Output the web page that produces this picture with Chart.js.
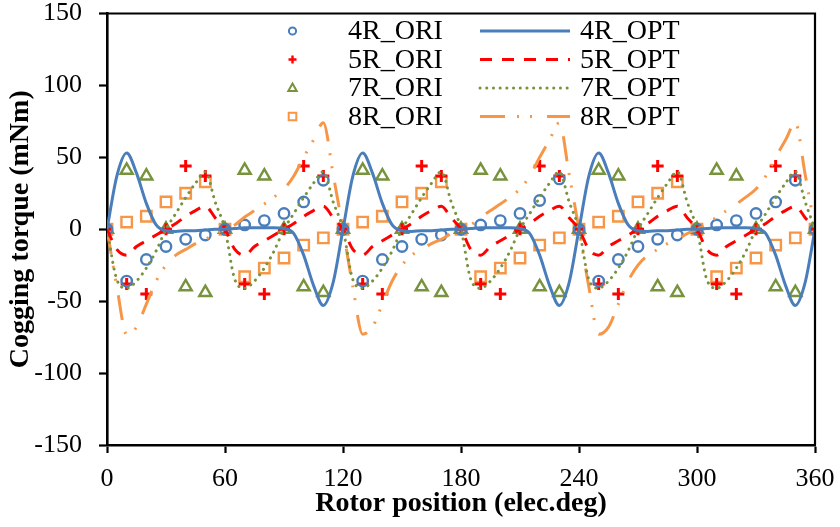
<!DOCTYPE html>
<html>
<head>
<meta charset="utf-8">
<title>Cogging torque</title>
<script src="https://cdn.jsdelivr.net/npm/chart.js@4.4.1/dist/chart.umd.min.js"></script>
<style>
  html, body { margin: 0; padding: 0; background: #fff; }
  #wrap { width: 840px; height: 527px; }
</style>
</head>
<body>
<div id="wrap"><canvas id="torque" width="840" height="527"></canvas></div>
<script>
// rotor angle (elec.deg) for the measured points and for the smooth curves
const angleOri = [0, 10, 20, 30, 40, 50, 60, 70, 80, 90, 100, 110, 120, 130, 140, 150, 160, 170, 180,
  190, 200, 210, 220, 230, 240, 250, 260, 270, 280, 290, 300, 310, 320, 330, 340, 350, 360];
const angleOpt = [0, 5, 10, 15, 20, 25, 30, 35, 40, 45, 50, 55, 60, 65, 70, 75, 80, 85, 90, 95, 100, 105, 110, 115,
  120, 125, 130, 135, 140, 145, 150, 155, 160, 165, 170, 175, 180, 185, 190, 195, 200, 205, 210, 215, 220, 225, 230, 235,
  240, 245, 250, 255, 260, 265, 270, 275, 280, 285, 290, 295, 300, 305, 310, 315, 320, 325, 330, 335, 340, 345, 350, 355, 360];

// original designs (mNm)
const ori4R = [0, -36, -21, -12, -7, -4, 0, 3, 6, 11, 19, 34,
  0, -36, -21, -12, -7, -4, 0, 3, 6, 11, 20, 35,
  0, -36, -21, -12, -7, -4, 0, 3, 6, 11, 19, 34, 0];
const ori5R = [0, -38, -45, 0, 44, 37, 0, -38, -45, 0, 44, 37,
  0, -38, -45, 0, 44, 37, 0, -38, -45, 0, 44, 37,
  0, -38, -45, 0, 44, 37, 0, -38, -45, 0, 44, 37, 0];
const ori7R = [0, 41, 37, 0, -40, -44, 0, 41, 37, 0, -40, -44,
  0, 41, 37, 0, -40, -44, 0, 41, 37, 0, -40, -44,
  0, 41, 37, 0, -40, -44, 0, 41, 37, 0, -40, -44, 0];
const ori8R = [0, 5, 9, 19, 25, 33, 0, -33, -27, -20, -11, -6,
  0, 5, 9, 19, 25, 33, 0, -33, -27, -20, -11, -6,
  0, 5, 9, 19, 25, 33, 0, -33, -27, -20, -11, -6, 0];

// optimized designs (mNm)
const opt4R = [0, 37, 53, 39, 18, 3, -1, -1.5, -1, -1, -0.5, 0, 0, 0.5, 1, 1, 1, 1, 0.5, -3, -18, -39, -53, -37,
  0, 37, 53, 39, 18, 3, -1, -1.5, -1, -1, -0.5, 0, 0, 0.5, 1, 1, 1, 1, 0.5, -3, -18, -39, -53, -37,
  0, 37, 53, 39, 18, 3, -1, -1.5, -1, -1, -0.5, 0, 0, 0.5, 1, 1, 1, 1, 0.5, -3, -18, -39, -53, -37, 0];
const opt5R = [0, -14, -18, -12, -8, -4, 0, 4, 9, 13, 16, 8, 0, -14, -18, -12, -8, -4, 0, 4, 9, 13, 16, 8,
  0, -14, -18, -12, -8, -4, 0, 4, 9, 13, 16, 8, 0, -14, -18, -12, -8, -4, 0, 4, 9, 13, 16, 8,
  0, -14, -18, -12, -8, -4, 0, 4, 9, 13, 16, 8, 0, -14, -18, -12, -8, -4, 0, 4, 9, 13, 16, 8, 0];
const opt7R = [0, -35, -41, -36, -27, -15, 0, 11, 22, 32, 40, 19, 0, -35, -41, -36, -27, -15, 0, 11, 22, 32, 40, 19,
  0, -35, -41, -36, -27, -15, 0, 11, 22, 32, 40, 19, 0, -35, -41, -36, -27, -15, 0, 11, 22, 32, 40, 19,
  0, -35, -41, -36, -27, -15, 0, 11, 22, 32, 40, 19, 0, -35, -41, -36, -27, -15, 0, 11, 22, 32, 40, 19, 0];
const opt8R = [0, -40, -73, -68, -52, -36, -25, -18, -14, -10, -7, -3, 0, 3, 8.5, 13, 17.5, 22.5, 28, 37, 50, 62, 74, 38,
  0, -40, -73, -68, -52, -36, -25, -18, -14, -10, -7, -3, 0, 3, 8.5, 13, 17.5, 22.5, 28, 37, 50, 62, 74, 38,
  0, -40, -73, -68, -52, -36, -25, -18, -14, -10, -7, -3, 0, 3, 8.5, 13, 17.5, 22.5, 28, 37, 50, 62, 74, 38, 0];

const xTicks = [0, 60, 120, 180, 240, 300, 360];
const yTicks = [-150, -100, -50, 0, 50, 100, 150];

const SERIF = '"Liberation Serif", "Times New Roman", Times, serif';
const BLUE = '#4A7EBB';
const RED = '#FF0000';
const GREEN = '#77933C';
const ORANGE = '#F79646';

function pts(xs, ys) {
  return xs.map((x, i) => ({ x, y: ys[i] }));
}

function markerSet(label, ys, color, style, radius) {
  return {
    label,
    data: pts(angleOri, ys),
    showLine: false,
    pointStyle: style,
    pointRadius: radius,
    pointHoverRadius: radius,
    pointBorderWidth: style === 'cross' ? 3 : 2.4,
    pointBorderColor: color,
    pointBackgroundColor: 'rgba(0,0,0,0)',
    borderColor: color,
    order: 1,
  };
}

function curveSet(label, ys, color, dash, cap) {
  return {
    label,
    data: pts(angleOpt, ys),
    showLine: true,
    pointRadius: 0,
    borderColor: color,
    borderWidth: 3,
    borderDash: dash,
    borderCapStyle: cap,
    cubicInterpolationMode: 'monotone',
    order: 0,
  };
}

const datasets = [
  markerSet('4R_ORI', ori4R, BLUE, 'circle', 5.2),
  markerSet('5R_ORI', ori5R, RED, 'cross', 6),
  markerSet('7R_ORI', ori7R, GREEN, 'triangle', 7),
  markerSet('8R_ORI', ori8R, ORANGE, 'rect', 7.4),
  curveSet('4R_OPT', opt4R, BLUE, [], 'butt'),
  curveSet('5R_OPT', opt5R, RED, [12, 10], 'butt'),
  curveSet('7R_OPT', opt7R, GREEN, [0.1, 6.6], 'round'),
  curveSet('8R_OPT', opt8R, ORANGE, [25, 12, 2, 11, 2, 15], 'butt'),
];

// legend sits inside the plot: markers on the left, curves on the right
const insideLegend = {
  id: 'insideLegend',
  afterDraw(chart) {
    const ctx = chart.ctx;
    const rowsY = [31, 59.5, 88, 116.5];
    ctx.save();
    ctx.font = '28px ' + SERIF;
    ctx.textBaseline = 'middle';
    ctx.textAlign = 'left';
    for (let i = 0; i < 4; i++) {
      const y = rowsY[i];
      const m = chart.data.datasets[i];
      const c = chart.data.datasets[i + 4];

      // marker sample
      const mx = 292.5;
      ctx.strokeStyle = m.pointBorderColor;
      ctx.lineWidth = 2;
      ctx.setLineDash([]);
      ctx.beginPath();
      if (m.pointStyle === 'circle') {
        ctx.arc(mx, y, 3.6, 0, Math.PI * 2);
      } else if (m.pointStyle === 'cross') {
        ctx.lineWidth = 2.4;
        ctx.moveTo(mx - 4, y); ctx.lineTo(mx + 4, y);
        ctx.moveTo(mx, y - 4); ctx.lineTo(mx, y + 4);
      } else if (m.pointStyle === 'triangle') {
        ctx.moveTo(mx, y - 4.5); ctx.lineTo(mx + 4.2, y + 3); ctx.lineTo(mx - 4.2, y + 3); ctx.closePath();
      } else {
        ctx.rect(mx - 3.8, y - 3.8, 7.6, 7.6);
      }
      ctx.stroke();

      // curve sample
      ctx.strokeStyle = c.borderColor;
      ctx.lineWidth = 3;
      ctx.lineCap = c.borderCapStyle;
      ctx.setLineDash(c.borderDash);
      ctx.beginPath();
      ctx.moveTo(480, y);
      ctx.lineTo(570, y);
      ctx.stroke();
      ctx.lineCap = 'butt';
      ctx.setLineDash([]);

      ctx.fillStyle = '#000';
      ctx.fillText(m.label, 348, y + 1);
      ctx.fillText(c.label, 580, y + 1);
    }
    ctx.restore();
  }
};

// top and right edges of the plot box
const plotFrame = {
  id: 'plotFrame',
  afterDraw(chart) {
    const { ctx, chartArea: a } = chart;
    ctx.save();
    ctx.strokeStyle = '#000';
    ctx.lineWidth = 2.2;
    ctx.beginPath();
    ctx.moveTo(a.left, a.top);
    ctx.lineTo(a.right, a.top);
    ctx.lineTo(a.right, a.bottom);
    ctx.stroke();
    ctx.restore();
  }
};

new Chart(document.getElementById('torque'), {
  type: 'scatter',
  data: { datasets },
  options: {
    responsive: false,
    animation: false,
    devicePixelRatio: 1,
    layout: { padding: { top: 13.5, right: 25, bottom: 0, left: 0 } },
    plugins: {
      legend: { display: false },
      tooltip: { enabled: false },
    },
    scales: {
      x: {
        type: 'linear',
        min: 0,
        max: 360,
        afterBuildTicks: s => { s.ticks = xTicks.map(v => ({ value: v })); },
        afterFit: s => { s.height = 82; s.paddingLeft = 0; s.paddingRight = 0; },
        grid: { drawOnChartArea: false, drawTicks: true, tickLength: 8, tickWidth: 2.2, tickColor: '#000' },
        border: { display: true, color: '#000', width: 2.6 },
        ticks: { color: '#000', padding: 11, maxRotation: 0, font: { family: SERIF, size: 26 } },
        title: {
          display: true,
          text: 'Rotor position (elec.deg)',
          color: '#000',
          font: { family: SERIF, size: 28, weight: 'bold' },
          padding: { top: 0, bottom: 6 },
        },
      },
      y: {
        type: 'linear',
        min: -150,
        max: 150,
        afterBuildTicks: s => { s.ticks = yTicks.map(v => ({ value: v })); },
        afterFit: s => { s.width = 107; s.paddingTop = 0; s.paddingBottom = 0; },
        grid: { drawOnChartArea: false, drawTicks: true, tickLength: 8, tickWidth: 2.2, tickColor: '#000' },
        border: { display: true, color: '#000', width: 2.6 },
        ticks: { color: '#000', padding: 17, font: { family: SERIF, size: 26 } },
        title: {
          display: true,
          text: 'Cogging torque (mNm)',
          color: '#000',
          font: { family: SERIF, size: 28, weight: 'bold' },
          padding: { top: 4, bottom: 0 },
        },
      },
    },
  },
  plugins: [insideLegend, plotFrame],
});
</script>
</body>
</html>
